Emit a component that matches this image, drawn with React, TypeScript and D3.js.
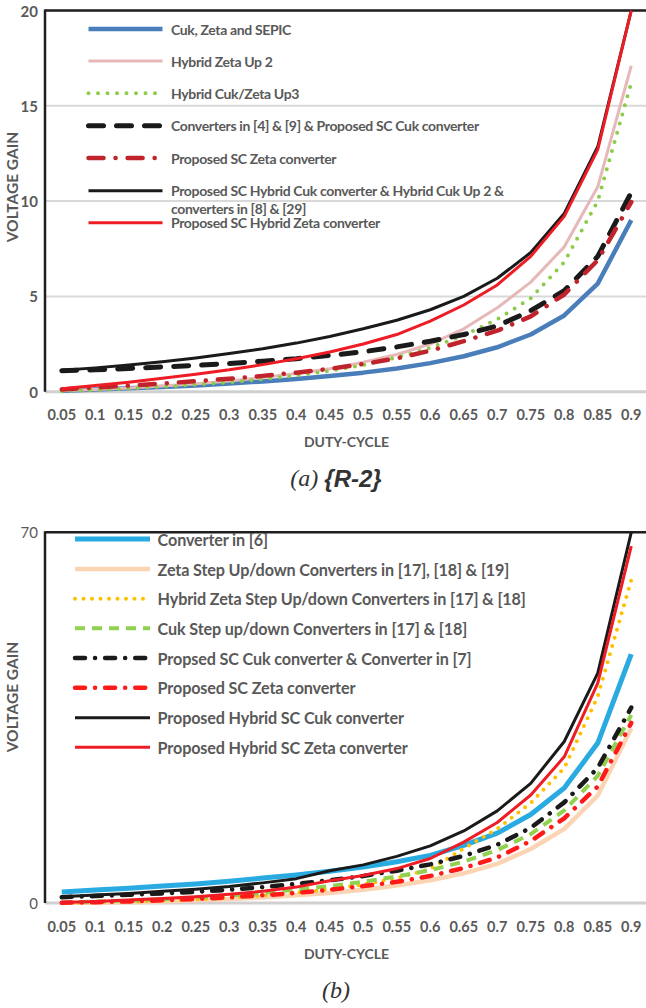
import React from "react";
import * as d3 from "d3";

// Duty-cycle categories shared by both panels
const dutyCycle = ["0.05", "0.1", "0.15", "0.2", "0.25", "0.3", "0.35", "0.4", "0.45", "0.5", "0.55", "0.6", "0.65", "0.7", "0.75", "0.8", "0.85", "0.9"];

// Panel (a) voltage gains
const gainCukZetaSepic = [0.05, 0.11, 0.18, 0.25, 0.33, 0.43, 0.54, 0.67, 0.82, 1.0, 1.22, 1.5, 1.86, 2.33, 3.0, 4.0, 5.67, 9.0];
const gainHybridZetaUp2 = [0.05, 0.12, 0.2, 0.3, 0.42, 0.56, 0.74, 0.95, 1.2, 1.55, 1.95, 2.5, 3.3, 4.4, 5.75, 7.6, 10.75, 17.1];
const gainHybridCukZetaUp3 = [0.03, 0.09, 0.17, 0.26, 0.37, 0.5, 0.66, 0.85, 1.1, 1.4, 1.8, 2.3, 2.95, 3.8, 4.9, 6.8, 10.0, 16.2];
const gainConverters4and9 = [1.1, 1.15, 1.22, 1.3, 1.38, 1.48, 1.6, 1.73, 1.9, 2.1, 2.35, 2.65, 3.0, 3.45, 4.25, 5.3, 7.1, 10.45];
const gainScZeta = [0.12, 0.22, 0.32, 0.43, 0.55, 0.68, 0.83, 1.0, 1.2, 1.45, 1.75, 2.15, 2.65, 3.2, 3.95, 5.1, 6.9, 9.95];
const gainScHybridCuk = [1.12, 1.25, 1.4, 1.57, 1.77, 2.0, 2.25, 2.55, 2.9, 3.3, 3.75, 4.3, 5.0, 5.95, 7.3, 9.35, 12.85, 20];
const gainScHybridZeta = [0.15, 0.33, 0.5, 0.7, 0.92, 1.15, 1.42, 1.73, 2.08, 2.5, 3.0, 3.7, 4.55, 5.6, 7.1, 9.2, 12.7, 20];

// Panel (b) voltage gains
const gainConverter6 = [2.1, 2.45, 2.8, 3.2, 3.6, 4.1, 4.7, 5.3, 6.0, 6.8, 7.8, 9.0, 10.9, 13.2, 16.7, 21.7, 30.2, 47];
const gainZetaStepUpDown = [0, 0.05, 0.15, 0.3, 0.5, 0.75, 1.05, 1.45, 1.9, 2.5, 3.3, 4.3, 5.6, 7.4, 10.2, 14.0, 20.3, 33];
const gainHybridZetaStepUpDown = [0, 0.1, 0.25, 0.45, 0.7, 1.0, 1.4, 1.9, 2.6, 3.5, 4.7, 6.4, 10.3, 14.0, 18.9, 25.5, 39, 61];
const gainCukStepUpDown = [0.1, 0.25, 0.45, 0.7, 1.0, 1.4, 1.9, 2.5, 3.2, 4.0, 5.0, 6.2, 7.8, 10.0, 13.0, 17.5, 24.0, 35.5];
const gainScCukConverter7 = [1.1, 1.3, 1.55, 1.8, 2.1, 2.5, 3.0, 3.6, 4.3, 5.1, 6.1, 7.3, 8.9, 11.0, 14.2, 19.0, 25.5, 36.9];
const gainScZetaB = [0.05, 0.15, 0.3, 0.5, 0.75, 1.05, 1.45, 1.9, 2.5, 3.2, 4.0, 5.1, 6.6, 8.6, 11.7, 16.0, 22.0, 34];
const gainHybridScCuk = [1.2, 1.5, 1.8, 2.2, 2.6, 3.1, 3.8, 4.6, 6.1, 7.2, 8.8, 10.8, 13.6, 17.4, 22.6, 30.5, 43.4, 70];
const gainHybridScZeta = [0.1, 0.3, 0.55, 0.85, 1.2, 1.65, 2.2, 3.0, 4.2, 5.2, 6.5, 8.4, 11.5, 15.2, 20.4, 27.6, 41.5, 67.4];

// Axis ticks
const ticksA = [0, 5, 10, 15, 20];
const ticksB = [0, 70];

type LineStyle = {
  color: string;
  width: number;
  dash?: string;
  cap?: "round" | "butt" | "square";
};

type Series = { label: string[]; values: number[]; style: LineStyle };

const seriesA: Series[] = [
  { label: ["Cuk, Zeta and SEPIC"], values: gainCukZetaSepic, style: { color: "#4a7ebb", width: 4.5 } },
  { label: ["Hybrid Zeta Up 2"], values: gainHybridZetaUp2, style: { color: "#e6b9b8", width: 3 } },
  { label: ["Hybrid Cuk/Zeta Up3"], values: gainHybridCukZetaUp3, style: { color: "#8dcc4a", width: 4, dash: "0 9.5", cap: "round" } },
  { label: ["Converters in [4] & [9] & Proposed SC Cuk converter"], values: gainConverters4and9, style: { color: "#1a1a1a", width: 5, dash: "15 13", cap: "round" } },
  { label: ["Proposed SC Zeta converter"], values: gainScZeta, style: { color: "#c0232b", width: 4.5, dash: "15 12 0.1 12", cap: "round" } },
  { label: ["Proposed SC Hybrid Cuk converter & Hybrid Cuk Up 2 &", "converters in [8] & [29]"], values: gainScHybridCuk, style: { color: "#1a1a1a", width: 3 } },
  { label: ["Proposed SC Hybrid Zeta converter"], values: gainScHybridZeta, style: { color: "#ee1c24", width: 3 } },
];

const seriesB: Series[] = [
  { label: ["Converter in [6]"], values: gainConverter6, style: { color: "#29abe2", width: 5 } },
  { label: ["Zeta Step Up/down Converters in [17], [18] & [19]"], values: gainZetaStepUpDown, style: { color: "#fbd4b4", width: 4.5 } },
  { label: ["Hybrid Zeta Step Up/down Converters in [17] & [18]"], values: gainHybridZetaStepUpDown, style: { color: "#ffc000", width: 4, dash: "0 8.5", cap: "round" } },
  { label: ["Cuk Step up/down Converters in [17] & [18]"], values: gainCukStepUpDown, style: { color: "#92d050", width: 4, dash: "10 7", cap: "butt" } },
  { label: ["Propsed SC Cuk converter & Converter in [7]"], values: gainScCukConverter7, style: { color: "#1a1a1a", width: 4.5, dash: "10 10 0.1 10", cap: "round" } },
  { label: ["Proposed SC Zeta converter"], values: gainScZetaB, style: { color: "#ff1a1a", width: 4.5, dash: "10 10 0.1 10", cap: "round" } },
  { label: ["Proposed Hybrid SC Cuk converter"], values: gainHybridScCuk, style: { color: "#1a1a1a", width: 3 } },
  { label: ["Proposed Hybrid SC Zeta converter"], values: gainHybridScZeta, style: { color: "#ee1c24", width: 3 } },
];

const FONT = "Lato, 'Open Sans', sans-serif";
const GREY = "#595959";

const plotLeft = 45;
const plotRight = 648;

type PanelProps = {
  id: string;
  series: Series[];
  yMax: number;
  ticks: number[];
  top: number;
  bottom: number;
  tickBold: boolean;
  legendRows: number[];
  legendLine: [number, number];
  legendTextX: number;
  legendFont: number;
  legendSpacing: number;
  legendLineGap: number;
  yTitleY: number;
};

function Panel(p: PanelProps) {
  const x = d3.scalePoint<string>().domain(dutyCycle).range([plotLeft, plotRight]).padding(0.5);
  const y = d3.scaleLinear().domain([0, p.yMax]).range([p.bottom, p.top]);
  const line = d3
    .line<number>()
    .x((_, i) => x(dutyCycle[i]) as number)
    .y((v) => y(v));
  const clipId = `clip-${p.id}`;

  return (
    <g>
      <defs>
        <clipPath id={clipId}>
          <rect x={plotLeft} y={p.top - 2} width={plotRight - plotLeft} height={p.bottom - p.top + 4} />
        </clipPath>
      </defs>
      {/* gridlines */}
      {p.ticks.map((t) => (
        <line
          key={t}
          x1={plotLeft}
          x2={plotRight}
          y1={y(t)}
          y2={y(t)}
          stroke={t === 0 ? "#d0d0d0" : "#d9d9d9"}
          strokeWidth={t === 0 ? 3 : 2}
        />
      ))}
      {/* plot-area frame: top edge and value axis */}
      <line x1={plotLeft} x2={plotRight} y1={p.top} y2={p.top} stroke="#1f1f1f" strokeWidth={2.5} />
      <line x1={plotLeft} x2={plotLeft} y1={p.top - 1} y2={p.bottom} stroke="#1f1f1f" strokeWidth={2.5} />
      {/* y tick labels */}
      {p.ticks.map((t) => (
        <text
          key={`l${t}`}
          x={38}
          y={y(t)}
          textAnchor="end"
          dominantBaseline="central"
          fontFamily={FONT}
          fontWeight={p.tickBold ? 700 : 400}
          fontSize={15}
          fill={GREY}
        >
          {t}
        </text>
      ))}
      {/* x tick labels */}
      {dutyCycle.map((d) => (
        <text
          key={d}
          x={x(d)}
          y={p.bottom + 23}
          textAnchor="middle"
          dominantBaseline="central"
          fontFamily={FONT}
          fontWeight={700}
          fontSize={14.5}
          fill={GREY}
        >
          {d}
        </text>
      ))}
      <text
        x={(plotLeft + plotRight) / 2}
        y={p.bottom + 50}
        textAnchor="middle"
        dominantBaseline="central"
        fontFamily={FONT}
        fontWeight={700}
        fontSize={14}
        fill={GREY}
      >
        DUTY-CYCLE
      </text>
      <text
        transform={`translate(12,${p.yTitleY}) rotate(-90)`}
        textAnchor="middle"
        dominantBaseline="central"
        fontFamily={FONT}
        fontWeight={700}
        fontSize={15.5}
        fill={GREY}
      >
        VOLTAGE GAIN
      </text>
      {/* series */}
      <g clipPath={`url(#${clipId})`}>
        {p.series.map((s, i) => (
          <path
            key={i}
            d={line(s.values) ?? ""}
            fill="none"
            stroke={s.style.color}
            strokeWidth={s.style.width}
            strokeDasharray={s.style.dash}
            strokeLinecap={s.style.cap ?? "butt"}
            strokeLinejoin="round"
          />
        ))}
      </g>
      {/* legend */}
      {p.series.map((s, i) => {
        const ly = p.legendRows[i];
        return (
          <g key={`lg${i}`}>
            <line
              x1={p.legendLine[0]}
              x2={p.legendLine[1]}
              y1={ly}
              y2={ly}
              stroke={s.style.color}
              strokeWidth={s.style.width}
              strokeDasharray={s.style.dash}
              strokeLinecap={s.style.cap ?? "butt"}
            />
            {s.label.map((t, k) => (
              <text
                key={k}
                x={p.legendTextX}
                y={ly + k * p.legendLineGap}
                dominantBaseline="central"
                fontFamily={FONT}
                fontWeight={700}
                fontSize={p.legendFont}
                letterSpacing={p.legendSpacing}
                fill={GREY}
              >
                {t}
              </text>
            ))}
          </g>
        );
      })}
    </g>
  );
}

export default function App() {
  return (
    <svg
      width={646}
      height={1008}
      viewBox="0 0 646 1008"
      style={{ position: "absolute", left: 0, top: 0, background: "#fff" }}
    >
      <rect width={646} height={1008} fill="#fff" />
      <Panel
        id="a"
        series={seriesA}
        yMax={20}
        ticks={ticksA}
        top={10.5}
        bottom={391.7}
        tickBold={true}
        legendRows={[29, 61, 93.3, 125.7, 158, 190.7, 222.7]}
        legendLine={[88.5, 162.5]}
        legendTextX={171}
        legendFont={14}
        legendSpacing={-0.35}
        legendLineGap={17.6}
        yTitleY={187}
      />
      <text x={336} y={478} textAnchor="middle" dominantBaseline="central" fontSize={24} fill="#333">
        <tspan fontFamily="'Liberation Serif', serif" fontStyle="italic">(a) </tspan>
        <tspan fontFamily="'Liberation Sans', Arial, sans-serif" fontStyle="italic" fontWeight={700}>
          {"{R-2}"}
        </tspan>
      </text>
      <Panel
        id="b"
        series={seriesB}
        yMax={70}
        ticks={ticksB}
        top={532.3}
        bottom={903}
        tickBold={false}
        legendRows={[539, 569, 598.7, 628.3, 658, 687.7, 717.7, 747.3]}
        legendLine={[75, 150]}
        legendTextX={157.6}
        legendFont={16.2}
        legendSpacing={-0.15}
        legendLineGap={0}
        yTitleY={697}
      />
      <text
        x={336}
        y={990}
        textAnchor="middle"
        dominantBaseline="central"
        fontSize={24}
        fontFamily="'Liberation Serif', serif"
        fontStyle="italic"
        fill="#333"
      >
        (b)
      </text>
    </svg>
  );
}
